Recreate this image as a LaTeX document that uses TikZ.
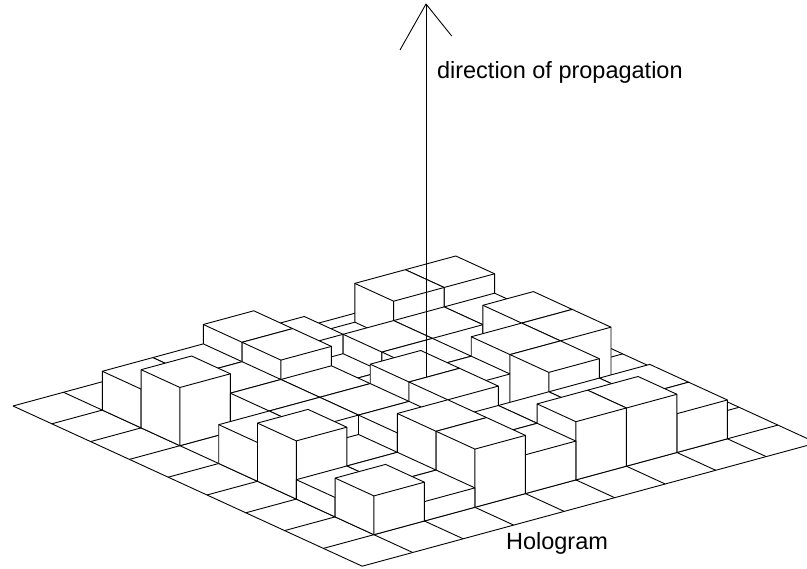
\documentclass[tikz,border=0pt]{standalone}
\usepackage{fontspec}
\setmainfont{Liberation Sans}
\newcommand{\drawcell}[3]{%
  \pgfmathtruncatemacro{\cpa}{#1+1}%
  \pgfmathtruncatemacro{\cqa}{#2+1}%
  \filldraw[cellface] (#1,#2,0) -- (\cpa,#2,0) -- (\cpa,\cqa,0) -- (\cpa,\cqa,#3) -- (#1,\cqa,#3) -- (#1,#2,#3) -- cycle;
  \draw[celledge] (#1,#2,#3) -- (\cpa,#2,#3) -- (\cpa,\cqa,#3) (\cpa,#2,#3) -- (\cpa,#2,0);
}
\begin{document}
\begin{tikzpicture}[x=1pt,y=1pt,line width=0.9pt,line join=round,
  cellface/.style={fill=white,draw=black},
  celledge/.style={draw=black},
  lbl/.style={inner sep=0pt,font=\fontsize{23.5}{26}\selectfont}]
\useasboundingbox (0,0) rectangle (807,569);
\clip (0,0) rectangle (807,569);
\begin{scope}[shift={(13pt,163pt)},x={(38.8pt,-17.8pt)},y={(50.5pt,13.7pt)},z={(0pt,19.4pt)}]
  \foreach \i in {0,...,9} {
    \draw (\i,0,0) -- (\i,9,0);
    \draw (0,\i,0) -- (9,\i,0);
  }
  % p = 1
  \drawcell{1}{7}{3}\drawcell{1}{6}{3}\drawcell{1}{5}{1}\drawcell{1}{4}{2}
  \drawcell{1}{3}{3}\drawcell{1}{2}{2}\drawcell{1}{1}{2}
  % p = 2
  \drawcell{2}{7}{2}\drawcell{2}{6}{2}\drawcell{2}{5}{2}\drawcell{2}{4}{1}
  \drawcell{2}{3}{3}\drawcell{2}{2}{2}\drawcell{2}{1}{3}
  % p = 3
  \drawcell{3}{7}{3}\drawcell{3}{5}{2}\drawcell{3}{4}{1}
  \drawcell{3}{3}{2}\drawcell{3}{2}{2}
  % p = 4
  \drawcell{4}{7}{3}\drawcell{4}{6}{3}\drawcell{4}{5}{2}\drawcell{4}{4}{3}
  \drawcell{4}{3}{2}\drawcell{4}{2}{2}\drawcell{4}{1}{2}
  % p = 5
  \drawcell{5}{6}{3}\drawcell{5}{4}{3}\drawcell{5}{3}{2}
  \drawcell{5}{2}{1}\drawcell{5}{1}{3}
  % p = 6
  \drawcell{6}{7}{2}\drawcell{6}{6}{2}\drawcell{6}{5}{2}\drawcell{6}{4}{2}
  \drawcell{6}{3}{3}\drawcell{6}{2}{1}\drawcell{6}{1}{1}
  % p = 7
  \drawcell{7}{7}{2}\drawcell{7}{6}{3}\drawcell{7}{5}{3}\drawcell{7}{4}{2}
  \drawcell{7}{3}{3}\drawcell{7}{2}{1}\drawcell{7}{1}{2}
\end{scope}
\coordinate (abase) at (426,192);
\coordinate (atip) at (426,565);
\coordinate (ahl) at (400,519);
\coordinate (ahr) at (451.7,533);
\draw (abase) -- (atip);
\draw (ahl) -- (atip) -- (ahr);
\node[lbl,anchor=base west] (dir) at (436.6,490) {direction of propagation};
\node[lbl,anchor=base west] (holo) at (505.6,19) {Hologram};
\end{tikzpicture}
\end{document}
